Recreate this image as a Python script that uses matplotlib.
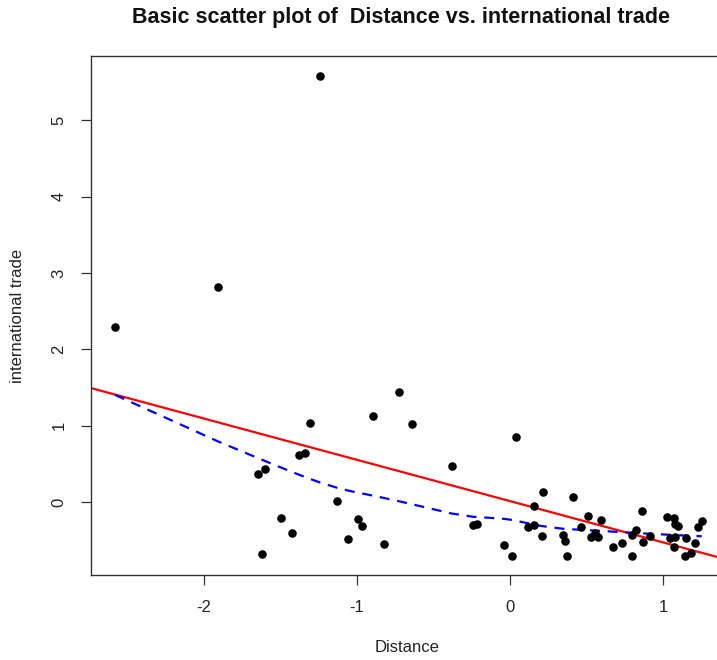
import numpy as np
import matplotlib
matplotlib.use("Agg")
import matplotlib.pyplot as plt

plt.rcParams['font.family'] = ['Liberation Sans', 'DejaVu Sans']

# standardized distance vs international trade
distance = [-2.578, -1.906, -1.240, -1.305, -0.725, -0.896, -0.642, -0.381, 0.039,
            -1.377, -1.338, -1.643, -1.599, -1.129, -1.495, -1.421, -1.621, -0.994,
            -0.964, -1.055, -0.822, -0.243, -0.217, 0.217, 0.414, 0.159, 0.119,
            0.159, 0.211, -0.037, 0.011, 0.344, 0.356, 0.374, 0.461, 0.512, 0.594,
            0.527, 0.554, 0.574, 0.674, 0.734, 0.794, 0.819, 0.794, 0.864, 0.870,
            0.916, 1.027, 1.070, 1.080, 1.099, 1.044, 1.074, 1.069, 1.146, 1.139,
            1.183, 1.208, 1.227, 1.251]
trade = [2.287, 2.814, 5.576, 1.030, 1.440, 1.126, 1.017, 0.475, 0.847,
         0.615, 0.645, 0.366, 0.428, 0.013, -0.205, -0.402, -0.685, -0.223,
         -0.314, -0.484, -0.546, -0.301, -0.288, 0.135, 0.059, -0.052, -0.323,
         -0.305, -0.441, -0.563, -0.703, -0.432, -0.510, -0.703, -0.330, -0.179, -0.236,
         -0.461, -0.410, -0.454, -0.593, -0.541, -0.703, -0.369, -0.432, -0.114, -0.527,
         -0.445, -0.194, -0.207, -0.292, -0.308, -0.475, -0.454, -0.593, -0.469, -0.703,
         -0.671, -0.541, -0.321, -0.249]

x = np.array(distance)
y = np.array(trade)


def lowess(x, y, f=2/3, iters=3):
    # same recipe as R's lowess(): tricube local lines + bisquare robustness
    order = np.argsort(x, kind="stable")
    xs, ys = x[order], y[order]
    n = len(xs)
    ns = max(min(int(f * n + 1e-7), n), 2)
    rng = xs[-1] - xs[0]
    rw = np.ones(n)
    fit = np.zeros(n)
    for it in range(iters + 1):
        for i in range(n):
            d = np.abs(xs - xs[i])
            h = np.sort(d)[ns - 1]
            w = np.zeros(n)
            inside = d <= 0.999 * h
            w[inside] = (1 - (d[inside] / h) ** 3) ** 3 if h > 0 else 1
            w[d <= 0.001 * h] = 1
            w *= rw
            if w.sum() <= 0:
                fit[i] = ys[i]
                continue
            w = w / w.sum()
            a = np.sum(w * xs)
            c = np.sum(w * (xs - a) ** 2)
            if h > 0 and np.sqrt(c) > 0.001 * rng:
                b = (xs[i] - a) / c
                w = w * (b * (xs - a) + 1)
            fit[i] = np.sum(w * ys)
        if it == iters:
            break
        res = np.abs(ys - fit)
        cmad = 6 * np.median(res)
        if cmad < 1e-7:
            break
        u = res / cmad
        rw = np.where(u < 0.999, (1 - u ** 2) ** 2, 0.0)
        rw[u <= 0.001] = 1
    return xs, fit


slope, intercept = np.polyfit(x, y, 1)
lx, ly = lowess(x, y)

fig = plt.figure(figsize=(7.17, 6.6), dpi=100)
ax = fig.add_axes([90.7 / 717, 84.7 / 660, 656.8 / 717, 519.3 / 660])

ax.scatter(x, y, s=38, color="black", zorder=3, linewidths=0)
ax.axline((0, intercept), slope=slope, color="red", lw=1.6, zorder=2)
ax.plot(lx, ly, color="blue", lw=1.6, dashes=(4.5, 3.5), zorder=2)

ax.set_xlim(-2.737, 1.55)
ax.set_ylim(-0.96, 5.84)
ax.set_xticks([-2, -1, 0, 1])
ax.set_yticks([0, 1, 2, 3, 4, 5])
ax.set_xticklabels(["-2", "-1", "0", "1"])
ax.set_yticklabels(["0", "1", "2", "3", "4", "5"], rotation=90, va="center")
ax.tick_params(direction="out", length=7.5, width=0.9, color="#333333",
               labelsize=12, pad=10, labelcolor="#222222")
for side in ax.spines.values():
    side.set_color("#333333")
    side.set_linewidth(1.0)

fig.text(401 / 717, 1 - 18 / 660, "Basic scatter plot of  Distance vs. international trade",
         ha="center", va="center", fontsize=15.5, fontweight="bold", color="#111111")
fig.text(407 / 717, 1 - 648 / 660, "Distance", ha="center", va="center",
         fontsize=12, color="#222222")
fig.text(18 / 717, 1 - 316 / 660, "international trade", ha="center", va="center",
         rotation=90, fontsize=12, color="#222222")

fig.savefig("out.png", dpi=100)
